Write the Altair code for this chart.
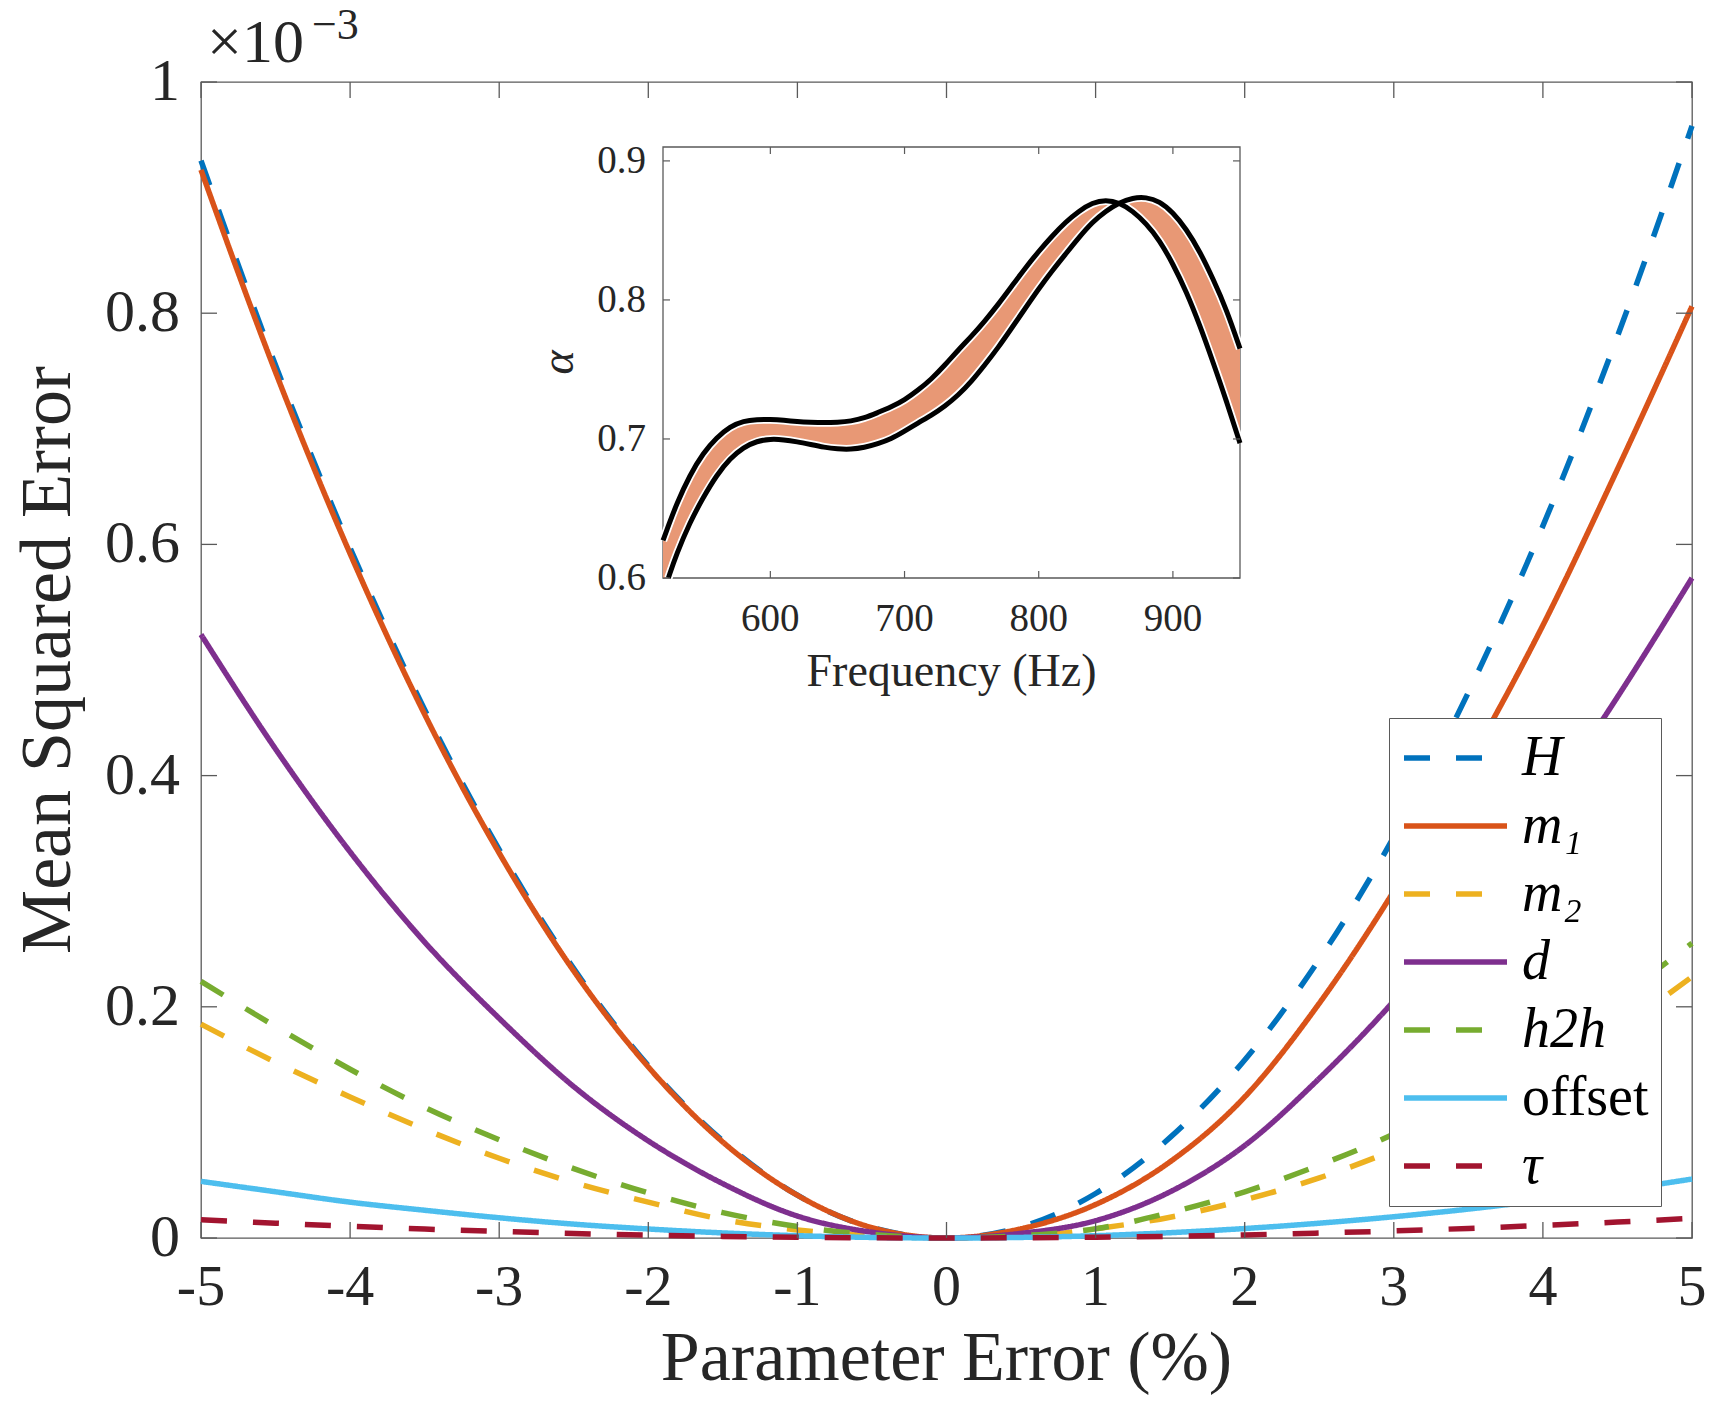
import altair as alt
import pandas as pd

FONT = "Liberation Serif"
TXT = "#262626"
AXC = "#5a5a5a"

# ---------------- main chart data (MSE values in units of 1e-3) ----------------
pe = [-5.0, -4.5, -4.0, -3.5, -3.0, -2.5, -2.0, -1.5, -1.0, -0.5, 0.0,
      0.5, 1.0, 1.5, 2.0, 2.5, 3.0, 3.5, 4.0, 4.5, 5.0]
H = [0.932, 0.755, 0.597, 0.457, 0.336, 0.233, 0.149, 0.084, 0.037, 0.009, 0.0,
     0.0096, 0.0385, 0.087, 0.154, 0.241, 0.347, 0.472, 0.616, 0.780, 0.962]
m1 = [0.924, 0.749, 0.592, 0.453, 0.333, 0.231, 0.148, 0.083, 0.037, 0.009, 0.0,
      0.008, 0.029, 0.066, 0.122, 0.203, 0.300, 0.410, 0.530, 0.665, 0.806]
m2 = [0.185, 0.152, 0.122, 0.094, 0.069, 0.048, 0.031, 0.016, 0.007, 0.002, 0.0,
      0.001, 0.008, 0.018, 0.033, 0.052, 0.076, 0.105, 0.140, 0.180, 0.226]
d = [0.522, 0.423, 0.334, 0.256, 0.190, 0.131, 0.084, 0.047, 0.019, 0.005, 0.0,
     0.004, 0.015, 0.040, 0.080, 0.138, 0.205, 0.283, 0.372, 0.468, 0.571]
h2h = [0.222, 0.183, 0.146, 0.113, 0.085, 0.060, 0.039, 0.022, 0.010, 0.003, 0.0,
       0.002, 0.008, 0.022, 0.040, 0.063, 0.090, 0.124, 0.163, 0.207, 0.255]
offset = [0.049, 0.040, 0.031, 0.024, 0.0175, 0.012, 0.0078, 0.0044, 0.002, 0.0005, 0.0,
          0.0005, 0.002, 0.0046, 0.0082, 0.0128, 0.0184, 0.025, 0.0327, 0.0413, 0.051]
tau = [0.0158, 0.0128, 0.0101, 0.0077, 0.0057, 0.0039, 0.0025, 0.0014, 0.0006, 0.0002, 0.0,
       0.0002, 0.0007, 0.0015, 0.0027, 0.0043, 0.0061, 0.0083, 0.0109, 0.0138, 0.017]

labels = ["H", "m\u2081", "m\u2082", "d", "h2h", "offset", "\u03c4"]
series = [H, m1, m2, d, h2h, offset, tau]
colors = ["#0072BD", "#D95319", "#EDB120", "#7E2F8E", "#77AC30", "#4DBEEE", "#A2142F"]
dashes = [[26, 26], [1, 0], [26, 26], [1, 0], [26, 26], [1, 0], [26, 26]]

xticks = [-5, -4, -3, -2, -1, 0, 1, 2, 3, 4, 5]
xtick_labels = ["-5", "-4", "-3", "-2", "-1", "0", "1", "2", "3", "4", "5"]
yticks = [0, 0.2, 0.4, 0.6, 0.8, 1.0]
ytick_labels = ["0", "0.2", "0.4", "0.6", "0.8", "1"]
x_title = "Parameter Error (%)"
y_title = "Mean Squared Error"

# ---------------- inset data ----------------
freq = [520, 524, 530, 540, 550, 560, 570, 580, 590, 600, 610, 620, 630, 640, 650,
        660, 670, 680, 690, 700, 710, 720, 730, 740, 750, 760, 770, 780, 790, 800,
        810, 820, 830, 840, 850, 860, 870, 880, 890, 900, 910, 920, 930, 940, 950]
alpha_a = [0.627, 0.6375, 0.653, 0.674, 0.690, 0.701, 0.709, 0.713, 0.714, 0.714,
           0.7135, 0.7125, 0.712, 0.7117, 0.712, 0.7128, 0.715, 0.719, 0.723, 0.728,
           0.735, 0.743, 0.753, 0.764, 0.774, 0.785, 0.797, 0.810, 0.823, 0.835,
           0.846, 0.856, 0.864, 0.870, 0.872, 0.870, 0.864, 0.855, 0.843, 0.826,
           0.806, 0.782, 0.755, 0.727, 0.697]
alpha_b = [0.600, 0.600, 0.617, 0.640, 0.658, 0.674, 0.686, 0.694, 0.6985, 0.700,
           0.6995, 0.698, 0.696, 0.694, 0.6928, 0.6925, 0.6938, 0.6965, 0.700, 0.7055,
           0.7115, 0.717, 0.7235, 0.7315, 0.7415, 0.7535, 0.766, 0.780, 0.794, 0.808,
           0.821, 0.833, 0.845, 0.856, 0.864, 0.870, 0.8735, 0.874, 0.871, 0.863,
           0.851, 0.835, 0.815, 0.793, 0.765]
ins_xticks = [600, 700, 800, 900]
ins_xtick_labels = ["600", "700", "800", "900"]
ins_yticks = [0.6, 0.7, 0.8, 0.9]
ins_ytick_labels = ["0.6", "0.7", "0.8", "0.9"]
ins_xdomain = [520, 950]
ins_ydomain = [0.6, 0.91]
ins_x_title = "Frequency (Hz)"
ins_y_title = "\u03b1"

# ---------------- layout ----------------
W, Hh = 1491, 1156
IX0, IX1, IY0, IY1 = 462, 1039, 496, 65   # inset pixel range inside plot area
TK, ITK = 16, 7                           # tick lengths (inward)
LW = 5.5

rows = []
for name, vals in zip(labels, series):
    for x, v in zip(pe, vals):
        rows.append({"pe": x, "mse": v, "series": name})
main_df = pd.DataFrame(rows)

mx = alt.Scale(domain=[-5, 5], nice=False, zero=False)
my = alt.Scale(domain=[0, 1], nice=False, zero=False)

leg = alt.Legend(
    title=None, orient="none", legendX=1188, legendY=636,
    symbolType="stroke", symbolSize=10609, symbolStrokeWidth=LW,
    labelFont=FONT, labelFontSize=56, labelColor="black",
    labelFontStyle=alt.ExprRef(expr="datum.label == 'offset' ? 'normal' : 'italic'"),
    labelOffset=12, padding=12, rowPadding=12, clipHeight=56,
    fillColor="white", strokeColor=AXC, zindex=1, labelLimit=0,
)

lines = alt.Chart(main_df).mark_line(strokeWidth=LW, interpolate="monotone").encode(
    x=alt.X("pe:Q", scale=mx, axis=None),
    y=alt.Y("mse:Q", scale=my, axis=None),
    color=alt.Color("series:N", scale=alt.Scale(domain=labels, range=colors), legend=leg),
    strokeDash=alt.StrokeDash("series:N", scale=alt.Scale(domain=labels, range=dashes), legend=leg),
)

xt_df = pd.DataFrame({"t": xticks, "lab": xtick_labels})
yt_df = pd.DataFrame({"t": yticks, "lab": ytick_labels})
tick_style = dict(color=AXC, strokeWidth=1.3)
top_ticks = alt.Chart(xt_df).mark_rule(**tick_style).encode(
    x=alt.X("t:Q", scale=mx, axis=None), y=alt.value(0), y2=alt.value(TK))
bottom_ticks = alt.Chart(xt_df).mark_rule(**tick_style).encode(
    x=alt.X("t:Q", scale=mx, axis=None), y=alt.value(Hh - TK), y2=alt.value(Hh))
left_ticks = alt.Chart(yt_df).mark_rule(**tick_style).encode(
    y=alt.Y("t:Q", scale=my, axis=None), x=alt.value(0), x2=alt.value(TK))
right_ticks = alt.Chart(yt_df).mark_rule(**tick_style).encode(
    y=alt.Y("t:Q", scale=my, axis=None), x=alt.value(W - TK), x2=alt.value(W))

x_labels = alt.Chart(xt_df).mark_text(
    font=FONT, fontSize=58, color=TXT, align="center", baseline="top").encode(
    x=alt.X("t:Q", scale=mx, axis=None), y=alt.value(Hh + 21), text="lab:N")
y_labels = alt.Chart(yt_df).mark_text(
    font=FONT, fontSize=60, color=TXT, align="right", baseline="middle").encode(
    y=alt.Y("t:Q", scale=my, axis=None), x=alt.value(-21), text="lab:N")
x_title_mark = alt.Chart(pd.DataFrame({"s": [x_title]})).mark_text(
    font=FONT, fontSize=70, color=TXT, align="center", baseline="middle").encode(
    x=alt.value(W / 2), y=alt.value(Hh + 121), text="s:N")
y_title_mark = alt.Chart(pd.DataFrame({"s": [y_title]})).mark_text(
    font=FONT, fontSize=72, color=TXT, align="center", baseline="middle", angle=270).encode(
    x=alt.value(-153), y=alt.value(Hh / 2), text="s:N")

exp1 = alt.Chart(pd.DataFrame({"s": ["\u00d710"]})).mark_text(
    align="left", baseline="alphabetic", font=FONT, fontSize=62, color=TXT).encode(
    text="s:N", x=alt.value(6), y=alt.value(-20))
exp2 = alt.Chart(pd.DataFrame({"s": ["\u22123"]})).mark_text(
    align="left", baseline="alphabetic", font=FONT, fontSize=44, color=TXT).encode(
    text="s:N", x=alt.value(111), y=alt.value(-43))

main = alt.layer(lines, top_ticks, bottom_ticks, left_ticks, right_ticks,
                 x_labels, y_labels, x_title_mark, y_title_mark, exp1, exp2)

# ---------------- inset ----------------
ix = alt.Scale(domain=ins_xdomain, range=[IX0, IX1], nice=False, zero=False)
iy = alt.Scale(domain=ins_ydomain, range=[IY0, IY1], nice=False, zero=False)

ins_df = pd.DataFrame({"f": freq, "A": alpha_a, "B": alpha_b})
box_df = pd.DataFrame({"x1": [ins_xdomain[0]], "x2": [ins_xdomain[1]],
                       "y1": [ins_ydomain[0]], "y2": [ins_ydomain[1]]})

bg = alt.Chart(box_df).mark_rect(fill="white", stroke=AXC, strokeWidth=1.3).encode(
    x=alt.X("x1:Q", scale=ix, axis=None), x2="x2:Q",
    y=alt.Y("y1:Q", scale=iy, axis=None), y2="y2:Q")

band = alt.Chart(ins_df).mark_area(color="#E89875", interpolate="basis").encode(
    x=alt.X("f:Q", scale=ix, axis=None),
    y=alt.Y("A:Q", scale=iy, axis=None), y2="B:Q")

curves = alt.Chart(ins_df).transform_fold(["A", "B"], as_=["k", "v"]).transform_filter(
    "datum.k == 'A' || datum.f >= 524")
white = curves.mark_line(color="white", strokeWidth=8.5, interpolate="basis").encode(
    x=alt.X("f:Q", scale=ix, axis=None), y=alt.Y("v:Q", scale=iy, axis=None), detail="k:N")
black = curves.mark_line(color="black", strokeWidth=5, interpolate="basis").encode(
    x=alt.X("f:Q", scale=ix, axis=None), y=alt.Y("v:Q", scale=iy, axis=None), detail="k:N")

ixt_df = pd.DataFrame({"t": ins_xticks, "lab": ins_xtick_labels})
iyt_df = pd.DataFrame({"t": ins_yticks, "lab": ins_ytick_labels})
itick = dict(color=AXC, strokeWidth=1.2)
itop = alt.Chart(ixt_df).mark_rule(**itick).encode(
    x=alt.X("t:Q", scale=ix, axis=None), y=alt.value(IY1), y2=alt.value(IY1 + ITK))
ibottom = alt.Chart(ixt_df).mark_rule(**itick).encode(
    x=alt.X("t:Q", scale=ix, axis=None), y=alt.value(IY0 - ITK), y2=alt.value(IY0))
ileft = alt.Chart(iyt_df).mark_rule(**itick).encode(
    y=alt.Y("t:Q", scale=iy, axis=None), x=alt.value(IX0), x2=alt.value(IX0 + ITK))
iright = alt.Chart(iyt_df).mark_rule(**itick).encode(
    y=alt.Y("t:Q", scale=iy, axis=None), x=alt.value(IX1 - ITK), x2=alt.value(IX1))

ix_labels = alt.Chart(ixt_df).mark_text(
    font=FONT, fontSize=39, color=TXT, align="center", baseline="top").encode(
    x=alt.X("t:Q", scale=ix, axis=None), y=alt.value(IY0 + 22), text="lab:N")
iy_labels = alt.Chart(iyt_df).mark_text(
    font=FONT, fontSize=39, color=TXT, align="right", baseline="middle").encode(
    y=alt.Y("t:Q", scale=iy, axis=None), x=alt.value(IX0 - 17), text="lab:N")
ix_title = alt.Chart(pd.DataFrame({"s": [ins_x_title]})).mark_text(
    font=FONT, fontSize=46, color=TXT, align="center", baseline="middle").encode(
    x=alt.value((IX0 + IX1) / 2), y=alt.value(IY0 + 94), text="s:N")
iy_title = alt.Chart(pd.DataFrame({"s": [ins_y_title]})).mark_text(
    font=FONT, fontSize=46, color=TXT, align="center", baseline="middle",
    angle=270, fontStyle="italic").encode(
    x=alt.value(IX0 - 104), y=alt.value((IY0 + IY1) / 2), text="s:N")

inset = alt.layer(bg, band, white, black, itop, ibottom, ileft, iright,
                  ix_labels, iy_labels, ix_title, iy_title)

chart = alt.layer(main, inset).resolve_scale(
    x="independent", y="independent"
).properties(
    width=W, height=Hh,
    autosize=alt.AutoSizeParams(type="none"),
    padding={"left": 201, "top": 82, "right": 21, "bottom": 170},
    background="white",
).configure_view(stroke=AXC, strokeWidth=1.3)

chart.save("out.html", embed_options={"renderer": "svg", "actions": False})
